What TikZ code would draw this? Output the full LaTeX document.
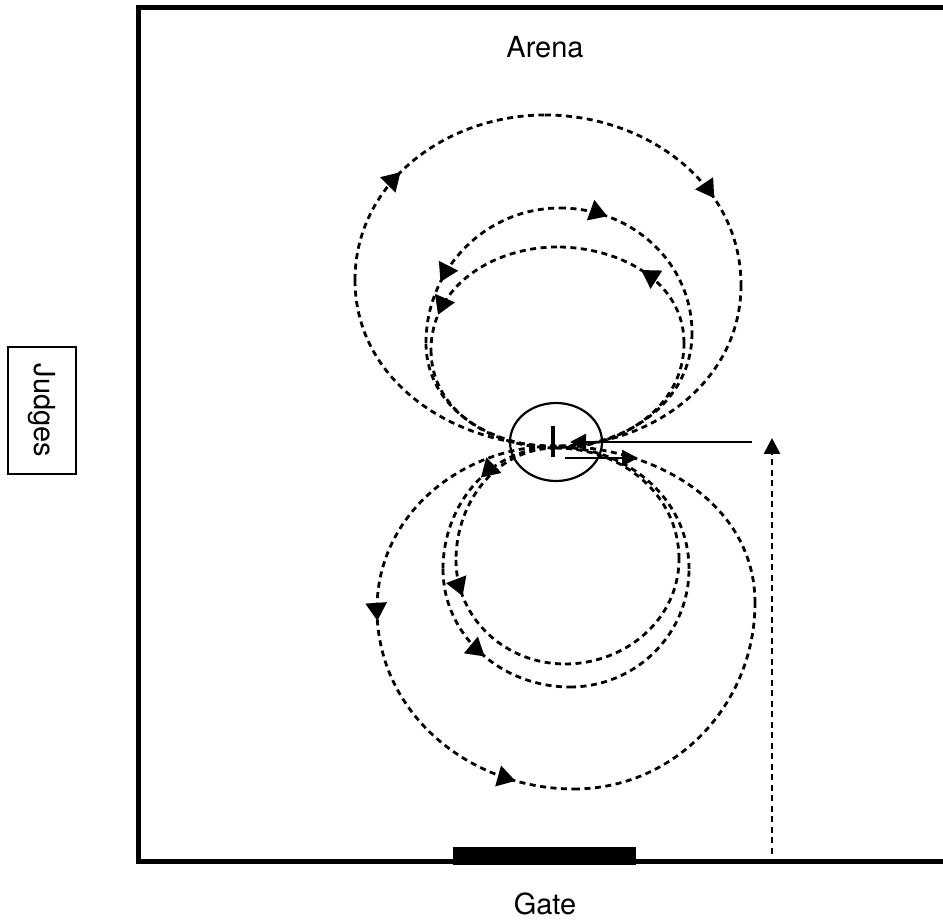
\documentclass[tikz,border=0pt]{standalone}
\usepackage{fontspec}
\setmainfont{TeX Gyre Heros}
\usetikzlibrary{arrows.meta,decorations.markings,shapes.geometric}
\tikzset{
  dline/.style={line width=2.8pt, dash pattern=on 6pt off 4.5pt},
  am/.style={postaction={decorate,decoration={markings,mark=at position #1 with {\arrow{Triangle[length=18pt,width=21pt]}}}}},
  amr/.style={postaction={decorate,decoration={markings,mark=at position #1 with {\arrowreversed{Triangle[length=18pt,width=21pt]}}}}},
  solidline/.style={line width=2.4pt},
  lbl/.style={font=\fontsize{29}{33}\selectfont, inner sep=0pt},
  tipend/.style={-{Triangle[length=16pt,width=16pt]}}
}
\begin{document}
\begin{tikzpicture}[x=1pt,y=1pt]
\useasboundingbox (0,0) rectangle (943,923);
\clip (0,0) rectangle (943,923);
% arena
\draw[line width=5pt] (960,915.5) -- (138.5,915.5) -- (138.5,61.5) -- (960,61.5);
\fill (453,58) rectangle (636,76);
\node[lbl] (arena) at (545,876) {Arena};
\node[lbl] (gate) at (545,19) {Gate};
\node[draw, line width=1.3pt, minimum width=68pt, minimum height=127pt, inner sep=0pt] (judgesbox) at (42,512.5) {};
\node[lbl, rotate=-90] (judges) at (42,512.5) {Judges};
% centre marker
\node[draw, ellipse, line width=2.2pt, minimum width=92pt, minimum height=78pt, inner sep=0pt] (marker) at (556,481) {};
\draw[line width=3.2pt] (553,497) -- (553,466);
% centre points
\coordinate (C1) at (556,477);
\coordinate (C2) at (556,476);
\coordinate (C3) at (556,475);
% upper loops
\coordinate (U1L) at (355,643); \coordinate (U1T) at (545,808); \coordinate (U1R) at (741,638);
\coordinate (U2L) at (426,580); \coordinate (U2T) at (560,715); \coordinate (U2R) at (692,590);
\coordinate (U3L) at (431,573); \coordinate (U3T) at (557,676); \coordinate (U3R) at (684,580);
% lower loops
\coordinate (L1L) at (377,314); \coordinate (L1B) at (574,134); \coordinate (L1R) at (755,320);
\coordinate (L2L) at (443,354); \coordinate (L2B) at (570,236); \coordinate (L2R) at (689,354);
\coordinate (L3L) at (456,363); \coordinate (L3B) at (565,259); \coordinate (L3R) at (679,364);
% U1 clockwise
\draw[dline] (C1) to[out=180,in=-90] (U1L);
\draw[dline, am=0.43] (U1L) to[out=90,in=180] (U1T);
\draw[dline, am=0.68] (U1T) to[out=0,in=90] (U1R);
\draw[dline] (U1R) to[out=-90,in=0] (C1);
% U2
\draw[dline] (C2) to[out=180,in=-90] (U2L);
\draw[dline, amr=0.30] (U2L) to[out=90,in=180] (U2T);
\draw[dline, am=0.24] (U2T) to[out=0,in=90] (U2R);
\draw[dline] (U2R) to[out=-90,in=0] (C2);
% U3 counter-clockwise
\draw[dline] (C3) to[out=0,in=-90] (U3R);
\draw[dline, am=0.5] (U3R) to[out=90,in=0] (U3T);
\draw[dline, am=0.8] (U3T) to[out=180,in=90] (U3L);
\draw[dline] (U3L) to[out=-90,in=180] (C3);
% L1 counter-clockwise
\draw[dline] (C1) to[out=180,in=90] (L1L);
\draw[dline, am=0.04, am=0.8] (L1L) to[out=-90,in=180] (L1B);
\draw[dline] (L1B) to[out=0,in=-90] (L1R);
\draw[dline] (L1R) to[out=90,in=0] (C1);
% L2
\draw[dline, am=0.45] (C2) to[out=180,in=90] (L2L);
\draw[dline, am=0.52] (L2L) to[out=-90,in=180] (L2B);
\draw[dline] (L2B) to[out=0,in=-90] (L2R);
\draw[dline] (L2R) to[out=90,in=0] (C2);
% L3
\draw[dline] (C3) to[out=180,in=90] (L3L);
\draw[dline, am=0.22] (L3L) to[out=-90,in=180] (L3B);
\draw[dline] (L3B) to[out=0,in=-90] (L3R);
\draw[dline] (L3R) to[out=90,in=0] (C3);
% entry and exit
\coordinate (entry) at (772,69);
\coordinate (entrytop) at (772,485);
\draw[dline, tipend] (entry) -- (entrytop);
\coordinate (runS) at (752,481);
\coordinate (runE) at (570,481);
\draw[solidline, tipend] (runS) -- (runE);
\coordinate (outS) at (565,465);
\coordinate (outE) at (638,465);
\draw[solidline, tipend] (outS) -- (outE);
\end{tikzpicture}
\end{document}
